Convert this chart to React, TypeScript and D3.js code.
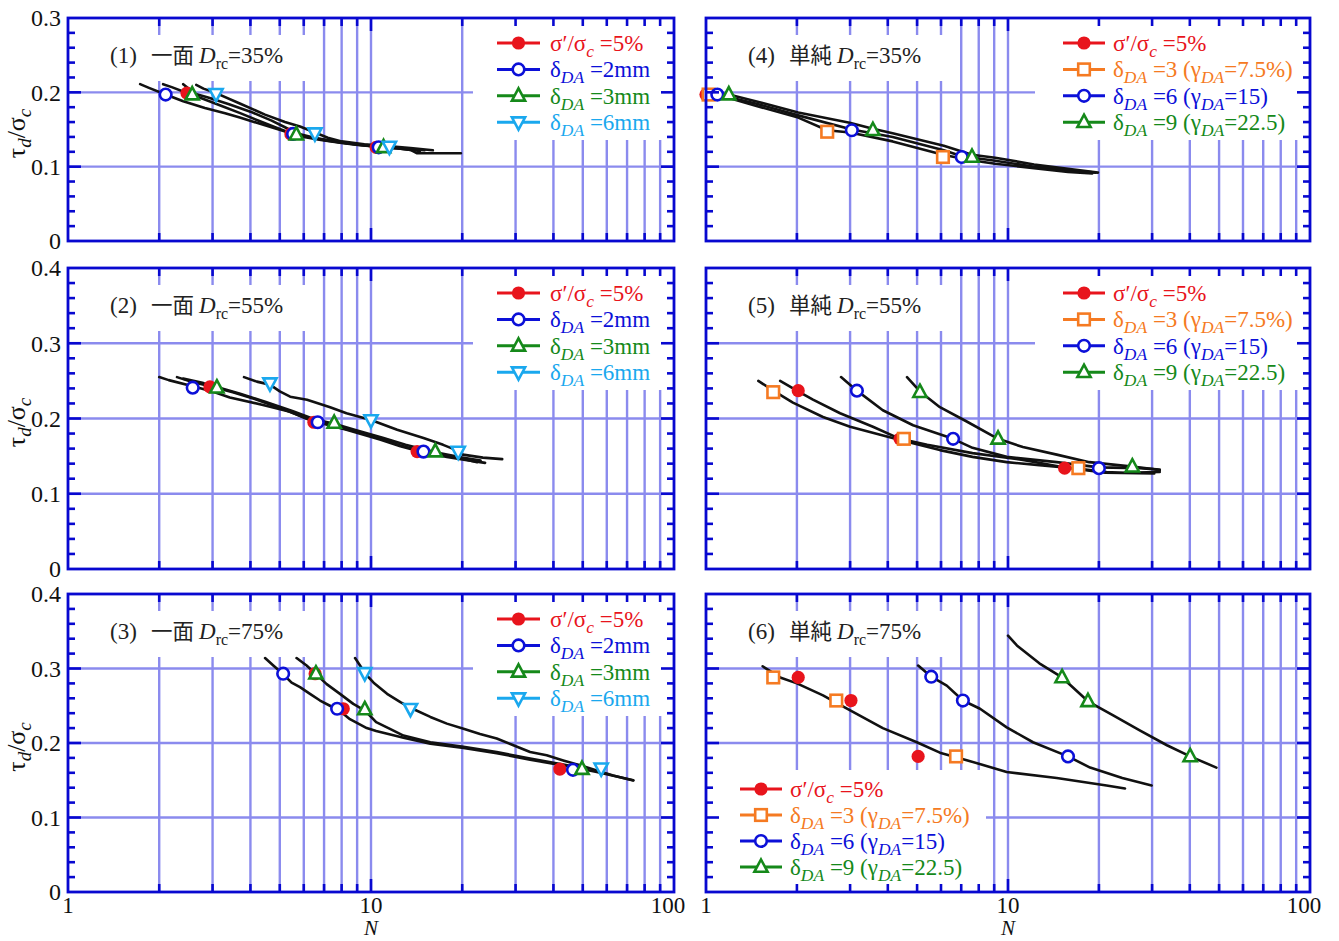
import React from "react";
import * as d3 from "d3";

// ---------------- data ----------------
const panelNumbers = ["(1)", "(2)", "(3)", "(4)", "(5)", "(6)"];
const panelMethods = ["一面", "一面", "一面", "単純", "単純", "単純"];
const panelDensities = ["=35%", "=55%", "=75%", "=35%", "=55%", "=75%"];
const panelYMax = [0.3, 0.4, 0.4, 0.3, 0.4, 0.4];
const xTickLabels = ["1", "10", "100"];
const xTickValues = [1, 10, 100];

// legend kinds and labels ([text, isSubscript])
const leftLegendKinds = ["red", "blue", "green", "cyan"];
const rightLegendKinds = ["red", "orange", "blue", "green"];
const leftLegendLabels: [string, number][][] = [
  [["σ′/σ", 0], ["c", 1], [" =5%", 0]],
  [["δ", 0], ["DA", 1], [" =2mm", 0]],
  [["δ", 0], ["DA", 1], [" =3mm", 0]],
  [["δ", 0], ["DA", 1], [" =6mm", 0]],
];
const rightLegendLabels: [string, number][][] = [
  [["σ′/σ", 0], ["c", 1], [" =5%", 0]],
  [["δ", 0], ["DA", 1], [" =3 (γ", 0], ["DA", 1], ["=7.5%)", 0]],
  [["δ", 0], ["DA", 1], [" =6 (γ", 0], ["DA", 1], ["=15)", 0]],
  [["δ", 0], ["DA", 1], [" =9 (γ", 0], ["DA", 1], ["=22.5)", 0]],
];

// Panel 1 (一面 Drc=35%)
const p1Red = [[2.47, 0.199], [5.44, 0.144], [10.4, 0.126]];
const p1Blue = [[2.10, 0.197], [5.53, 0.144], [10.6, 0.126]];
const p1Green = [[2.57, 0.197], [5.67, 0.143], [11.0, 0.126]];
const p1Cyan = [[3.08, 0.198], [6.53, 0.145], [11.5, 0.127]];
const p1CurveA = [[1.73, 0.211], [1.85, 0.206], [2.1, 0.197], [2.4, 0.188], [2.83, 0.179], [3.3, 0.172], [3.69, 0.166], [4.2, 0.159], [4.78, 0.152], [5.44, 0.145], [6.0, 0.140], [6.83, 0.136], [8.0, 0.132], [9.2, 0.129], [10.5, 0.127], [12, 0.125], [13.5, 0.1225], [14.2, 0.118], [16, 0.118], [19.8, 0.118]];
const p1CurveB = [[2.06, 0.211], [2.2, 0.207], [2.47, 0.199], [2.8, 0.191], [3.2, 0.182], [3.7, 0.172], [4.3, 0.161], [4.9, 0.152], [5.44, 0.145], [6.2, 0.140], [7.2, 0.135], [8.5, 0.131], [10.4, 0.127], [12.5, 0.124], [14.5, 0.121]];
const p1CurveC = [[2.40, 0.211], [2.5, 0.205], [2.57, 0.199], [2.9, 0.193], [3.4, 0.184], [4.0, 0.174], [4.7, 0.162], [5.2, 0.153], [5.67, 0.145], [6.5, 0.139], [7.6, 0.134], [9.0, 0.130], [11.0, 0.127], [13, 0.124], [15, 0.122]];
const p1CurveD = [[2.65, 0.210], [2.8, 0.205], [3.08, 0.199], [3.69, 0.185], [4.47, 0.170], [5.2, 0.160], [5.83, 0.154], [6.53, 0.146], [7.2, 0.139], [8.0, 0.134], [9.5, 0.130], [11.1, 0.128], [13.5, 0.125], [16, 0.122]];

// Panel 2 (一面 Drc=55%)
const p2Red = [[2.94, 0.242], [6.48, 0.195], [14.2, 0.156]];
const p2Blue = [[2.58, 0.241], [6.67, 0.195], [14.9, 0.156]];
const p2Green = [[3.10, 0.241], [7.56, 0.194], [16.3, 0.156]];
const p2Cyan = [[4.64, 0.247], [10.0, 0.198], [19.4, 0.156]];
const p2CurveA = [[2.0, 0.255], [2.15, 0.251], [2.58, 0.243], [3.0, 0.236], [3.42, 0.228], [4.4, 0.218], [5.41, 0.209], [6.1, 0.200], [6.67, 0.195], [8.3, 0.185], [10.7, 0.172], [12.5, 0.163], [14.2, 0.157], [17.8, 0.149], [20.5, 0.145], [23.8, 0.141]];
const p2CurveB = [[2.29, 0.255], [2.5, 0.250], [2.94, 0.243], [3.5, 0.235], [4.2, 0.225], [5.0, 0.214], [5.9, 0.203], [6.48, 0.197], [7.56, 0.190], [9, 0.182], [10.8, 0.173], [12.5, 0.164], [14.2, 0.158], [16.3, 0.153], [19, 0.149], [22.4, 0.142]];
const p2CurveC = [[2.4, 0.253], [2.8, 0.247], [3.1, 0.242], [3.7, 0.233], [4.5, 0.222], [5.5, 0.210], [6.5, 0.199], [7.56, 0.193], [9, 0.184], [11, 0.174], [13, 0.165], [16.3, 0.155], [20, 0.148], [23, 0.144]];
const p2CurveD = [[3.81, 0.255], [4.2, 0.249], [4.64, 0.245], [5.0, 0.236], [5.41, 0.229], [6.15, 0.225], [7.33, 0.215], [8.3, 0.207], [10, 0.198], [12.2, 0.185], [14.9, 0.174], [17.3, 0.165], [19.4, 0.157], [20.1, 0.152], [23.4, 0.148], [27.1, 0.146]];

// Panel 3 (一面 Drc=75%)
const p3Red = [[6.54, 0.293], [8.1, 0.246], [42.0, 0.165]];
const p3Blue = [[5.13, 0.293], [7.73, 0.246], [46.4, 0.164]];
const p3Green = [[6.58, 0.293], [9.54, 0.245], [49.7, 0.165]];
const p3Cyan = [[9.54, 0.294], [13.5, 0.246], [57.5, 0.166]];
const p3CurveA = [[4.47, 0.314], [4.76, 0.304], [5.11, 0.293], [5.47, 0.281], [5.83, 0.275], [6.29, 0.266], [6.79, 0.257], [7.32, 0.250], [7.9, 0.243], [8.52, 0.232], [9.68, 0.220], [10.4, 0.216], [12.8, 0.207], [15.7, 0.199], [20.2, 0.1935], [26.0, 0.1864], [33.5, 0.1775], [43.1, 0.170], [55.6, 0.161], [73.4, 0.150]];
const p3CurveB = [[5.68, 0.314], [6.13, 0.304], [6.54, 0.2935], [7.14, 0.279], [7.9, 0.266], [8.74, 0.2525], [9.55, 0.2436], [10.4, 0.228], [11.55, 0.219], [12.8, 0.210], [15.7, 0.201], [20.2, 0.195], [26.0, 0.188], [33.5, 0.179], [43.1, 0.171], [50, 0.166]];
const p3CurveC = [[8.86, 0.314], [9.2, 0.304], [9.55, 0.2935], [10.2, 0.281], [11.3, 0.266], [12.5, 0.255], [13.55, 0.247], [15.7, 0.235], [17.8, 0.226], [20.2, 0.219], [22.9, 0.212], [26.0, 0.206], [29.5, 0.197], [33.5, 0.188], [38.0, 0.1835], [43.1, 0.1766], [49.0, 0.170], [55.6, 0.163], [63.0, 0.1565], [73.4, 0.1498]];

// Panel 4 (単純 Drc=35%)
const p4Red = [[1.0, 0.197]];
const p4Orange = [[1.02, 0.197], [2.52, 0.147], [6.09, 0.113]];
const p4Blue = [[1.09, 0.197], [3.04, 0.149], [7.03, 0.113]];
const p4Green = [[1.19, 0.197], [3.57, 0.149], [7.6, 0.113]];
const p4CurveA = [[1.0, 0.200], [1.19, 0.197], [1.46, 0.188], [2.02, 0.173], [2.99, 0.159], [3.57, 0.151], [4.15, 0.145], [6.13, 0.128], [7.6, 0.116], [9.07, 0.112], [12.2, 0.103], [15.8, 0.097], [19.85, 0.092]];
const p4CurveB = [[1.0, 0.199], [1.09, 0.197], [1.46, 0.185], [2.02, 0.169], [3.04, 0.150], [4.15, 0.140], [6.13, 0.122], [7.03, 0.114], [9.07, 0.108], [12.2, 0.100], [15.8, 0.095], [19.5, 0.092]];
const p4CurveC = [[1.0, 0.198], [1.2, 0.192], [1.46, 0.182], [2.02, 0.166], [2.52, 0.149], [3.0, 0.146], [4.15, 0.134], [6.09, 0.116], [7.46, 0.109], [9.07, 0.104], [12.2, 0.098], [15.8, 0.093], [19.0, 0.091]];

// Panel 5 (単純 Drc=55%)
const p5Red = [[2.02, 0.237], [4.39, 0.173], [15.4, 0.134]];
const p5Orange = [[1.67, 0.235], [4.52, 0.173], [17.1, 0.134]];
const p5Blue = [[3.16, 0.237], [6.58, 0.173], [20.0, 0.134]];
const p5Green = [[5.11, 0.235], [9.27, 0.173], [25.8, 0.136]];
const p5CurveA = [[1.49, 0.250], [1.67, 0.237], [1.94, 0.221], [2.44, 0.202], [3.0, 0.189], [3.97, 0.176], [4.63, 0.169], [5.95, 0.158], [7.63, 0.149], [9.9, 0.142], [12.7, 0.138], [16.4, 0.134], [21.2, 0.129], [24, 0.128], [31.8, 0.129]];
const p5CurveB = [[1.76, 0.250], [2.02, 0.236], [2.26, 0.225], [2.78, 0.207], [3.57, 0.189], [4.39, 0.173], [5.4, 0.165], [7.63, 0.154], [11.2, 0.145], [15.4, 0.135], [21, 0.128], [30.5, 0.127]];
const p5CurveC = [[2.80, 0.255], [3.16, 0.237], [3.85, 0.211], [4.85, 0.191], [6.58, 0.173], [7.63, 0.161], [9.9, 0.149], [14.5, 0.142], [20, 0.135], [27.3, 0.134], [31.8, 0.132]];
const p5CurveD = [[4.63, 0.255], [5.11, 0.236], [5.95, 0.215], [7.3, 0.196], [9.27, 0.173], [11.2, 0.162], [14.5, 0.152], [18.6, 0.142], [25.8, 0.136], [30.2, 0.133], [31.8, 0.131]];

// Panel 6 (単純 Drc=75%)
const p6Red = [[2.02, 0.288], [3.02, 0.257], [5.04, 0.182]];
const p6Orange = [[1.67, 0.288], [2.70, 0.257], [6.73, 0.182]];
const p6Blue = [[5.57, 0.289], [7.09, 0.257], [15.8, 0.182]];
const p6Green = [[15.1, 0.288], [18.4, 0.256], [40.1, 0.182]];
const p6CurveA = [[1.54, 0.303], [1.76, 0.288], [2.0, 0.280], [2.44, 0.264], [2.93, 0.246], [3.85, 0.220], [4.99, 0.201], [5.95, 0.187], [7.3, 0.177], [9.9, 0.161], [14.5, 0.153], [21.2, 0.143], [24.4, 0.139]];
const p6CurveB = [[5.04, 0.304], [5.57, 0.289], [6.27, 0.277], [7.09, 0.257], [8.08, 0.246], [9.9, 0.221], [12.1, 0.201], [15.8, 0.182], [18.7, 0.167], [23.9, 0.153], [29.9, 0.143]];
const p6CurveC = [[10.0, 0.344], [10.7, 0.331], [12.7, 0.307], [15.1, 0.288], [18.4, 0.256], [22.3, 0.237], [27.3, 0.217], [33.6, 0.197], [40.1, 0.182], [49.0, 0.167]];

// ---------------- styles / layout ----------------
const SERIF = "'Liberation Serif','Times New Roman',Times,serif";
const CJK = "'Noto Sans CJK JP','Noto Sans CJK SC',sans-serif";
const COLORS: Record<string, string> = {
  red: "#e8141c",
  blue: "#0c10d8",
  green: "#15891a",
  cyan: "#1aa8ee",
  orange: "#f57a22",
};
const FRAME = "#0808d0";
const GRID = "#8b8bee";

const COLS = [
  { x0: 68, x1: 674 },
  { x0: 706, x1: 1310 },
];
const ROWS = [
  { y0: 18, y1: 241 },
  { y0: 268, y1: 569 },
  { y0: 594, y1: 892 },
];

type Pt = number[];
interface PanelDef {
  col: number;
  row: number;
  curves: Pt[][];
  series: [string, Pt[]][];
  legend: "left" | "right" | "bottom";
}

const PANELS: PanelDef[] = [
  { col: 0, row: 0, curves: [p1CurveA, p1CurveB, p1CurveC, p1CurveD], series: [["red", p1Red], ["blue", p1Blue], ["green", p1Green], ["cyan", p1Cyan]], legend: "left" },
  { col: 0, row: 1, curves: [p2CurveA, p2CurveB, p2CurveC, p2CurveD], series: [["red", p2Red], ["blue", p2Blue], ["green", p2Green], ["cyan", p2Cyan]], legend: "left" },
  { col: 0, row: 2, curves: [p3CurveA, p3CurveB, p3CurveC], series: [["red", p3Red], ["blue", p3Blue], ["green", p3Green], ["cyan", p3Cyan]], legend: "left" },
  { col: 1, row: 0, curves: [p4CurveA, p4CurveB, p4CurveC], series: [["red", p4Red], ["orange", p4Orange], ["blue", p4Blue], ["green", p4Green]], legend: "right" },
  { col: 1, row: 1, curves: [p5CurveA, p5CurveB, p5CurveC, p5CurveD], series: [["red", p5Red], ["orange", p5Orange], ["blue", p5Blue], ["green", p5Green]], legend: "right" },
  { col: 1, row: 2, curves: [p6CurveA, p6CurveB, p6CurveC], series: [["red", p6Red], ["orange", p6Orange], ["blue", p6Blue], ["green", p6Green]], legend: "bottom" },
];

function Marker({ kind, x, y }: { kind: string; x: number; y: number }) {
  const c = COLORS[kind];
  const sw = 2.6;
  if (kind === "red") return <circle cx={x} cy={y} r={6.6} fill={c} />;
  if (kind === "blue") return <circle cx={x} cy={y} r={5.8} fill="#fff" stroke={c} strokeWidth={sw} />;
  if (kind === "orange") return <rect x={x - 5.8} y={y - 5.8} width={11.6} height={11.6} fill="#fff" stroke={c} strokeWidth={sw} />;
  if (kind === "green")
    return <path d={`M${x},${y - 7.5}L${x + 6.6},${y + 4.8}L${x - 6.6},${y + 4.8}Z`} fill="#fff" stroke={c} strokeWidth={sw} strokeLinejoin="miter" />;
  return <path d={`M${x},${y + 7.5}L${x + 6.6},${y - 4.8}L${x - 6.6},${y - 4.8}Z`} fill="#fff" stroke={c} strokeWidth={sw} strokeLinejoin="miter" />;
}

function RichLabel({ parts, x, y, color, size }: { parts: [string, number][]; x: number; y: number; color: string; size: number }) {
  const out: any[] = [];
  let shifted = false;
  parts.forEach(([t, sub], i) => {
    if (sub) {
      out.push(
        <tspan key={i} dy={shifted ? 0 : 6} fontSize={size * 0.76} fontStyle="italic">
          {t}
        </tspan>
      );
      shifted = true;
    } else {
      out.push(
        <tspan key={i} dy={shifted ? -6 : 0} fontSize={size}>
          {t}
        </tspan>
      );
      shifted = false;
    }
  });
  return (
    <text x={x} y={y} fill={color} fontFamily={SERIF} fontSize={size} style={{ whiteSpace: "pre" }}>
      {out}
    </text>
  );
}

function Panel({ def, idx }: { def: PanelDef; idx: number }) {
  const { x0, x1 } = COLS[def.col];
  const { y0, y1 } = ROWS[def.row];
  const ymax = panelYMax[idx];
  const xs = d3.scaleLog().domain([1, 100]).range([x0, x1]);
  const ys = d3.scaleLinear().domain([0, ymax]).range([y1, y0]);
  const line = d3
    .line<Pt>()
    .x((d) => xs(d[0]))
    .y((d) => ys(d[1]));

  const xAll = xs.ticks().filter((v) => v > 1 && v < 100);
  const yMajor = ys.ticks(Math.round(ymax * 10));
  const yMinor = d3.range(0, Math.round(ymax * 50) + 1).map((k) => k / 50);
  const clipId = `clip${idx}`;

  // title box
  const tbx = x0 + 32;
  const tby = y0 + 17;
  // legend box
  let lb = { x: 0, y: 0, w: 0, h: 0 };
  let lineX0 = 0, lineX1 = 0, textX = 0, rowY0 = 0, rowStep = 26.4;
  let kinds = leftLegendKinds;
  let labels = leftLegendLabels;
  if (def.legend === "left") {
    lb = { x: x0 + 405, y: y0, w: x1 - (x0 + 405), h: 122 };
    lineX0 = x0 + 429; lineX1 = x0 + 472; textX = x0 + 482; rowY0 = y0 + 25;
  } else if (def.legend === "right") {
    kinds = rightLegendKinds; labels = rightLegendLabels;
    lb = { x: x0 + 329, y: y0, w: x1 - (x0 + 329), h: 122 };
    lineX0 = x0 + 357; lineX1 = x0 + 399; textX = x0 + 407; rowY0 = y0 + 25;
  } else {
    kinds = rightLegendKinds; labels = rightLegendLabels;
    lb = { x: x0, y: y0 + 176, w: 280, h: y1 - (y0 + 176) };
    lineX0 = x0 + 34; lineX1 = x0 + 76; textX = x0 + 84; rowY0 = y0 + 195; rowStep = 26;
  }

  const isLeftCol = def.col === 0;
  const isBottom = def.row === 2;

  return (
    <g>
      <defs>
        <clipPath id={clipId}>
          <rect x={x0} y={y0} width={x1 - x0} height={y1 - y0} />
        </clipPath>
      </defs>
      {/* grid */}
      <g clipPath={`url(#${clipId})`} stroke={GRID} strokeWidth={2.4}>
        {xAll.map((v) => (
          <line key={"gx" + v} x1={xs(v)} x2={xs(v)} y1={y0} y2={y1} />
        ))}
        {yMajor
          .filter((v) => v > 0 && v < ymax - 1e-9)
          .map((v) => (
            <line key={"gy" + v} x1={x0} x2={x1} y1={ys(v)} y2={ys(v)} />
          ))}
      </g>
      {/* white boxes */}
      <rect x={tbx} y={tby} width={206} height={46} fill="#fff" />
      <rect x={lb.x} y={lb.y} width={lb.w} height={lb.h} fill="#fff" />
      {/* curves */}
      <g clipPath={`url(#${clipId})`} fill="none" stroke="#111" strokeWidth={2.6} strokeLinejoin="round" strokeLinecap="round">
        {def.curves.map((c, i) => (
          <path key={i} d={line(c as Pt[]) || ""} />
        ))}
      </g>
      {/* markers */}
      {def.series.map(([kind, pts]) =>
        pts.map((p, i) => <Marker key={kind + i} kind={kind} x={xs(p[0])} y={ys(p[1])} />)
      )}
      {/* ticks */}
      <g stroke={FRAME} strokeWidth={2.6}>
        {xAll.map((v) => {
          const L = v === 10 ? 13 : 8;
          return (
            <g key={"tx" + v}>
              <line x1={xs(v)} x2={xs(v)} y1={y1} y2={y1 - L} />
              <line x1={xs(v)} x2={xs(v)} y1={y0} y2={y0 + L} />
            </g>
          );
        })}
        {yMinor
          .filter((v) => v > 0 && v < ymax - 1e-9)
          .map((v) => {
            const major = Math.abs(v * 10 - Math.round(v * 10)) < 1e-6;
            const L = major ? 13 : 7;
            return (
              <g key={"ty" + v}>
                <line x1={x0} x2={x0 + L} y1={ys(v)} y2={ys(v)} />
                <line x1={x1} x2={x1 - L} y1={ys(v)} y2={ys(v)} />
              </g>
            );
          })}
      </g>
      <rect x={x0} y={y0} width={x1 - x0} height={y1 - y0} fill="none" stroke={FRAME} strokeWidth={2.8} />
      {/* title */}
      <text x={x0 + 42} y={y0 + 45} fontFamily={SERIF} fontSize={23} fill="#222" style={{ whiteSpace: "pre" }}>
        <tspan>{panelNumbers[idx]}</tspan>
        <tspan x={x0 + 83} fontFamily={CJK} fontSize={21.5}>{panelMethods[idx]}</tspan>
        <tspan x={x0 + 131} fontStyle="italic">D</tspan>
        <tspan dy={6} fontSize={16}>rc</tspan>
        <tspan dy={-6}>{panelDensities[idx]}</tspan>
      </text>
      {/* legend */}
      {kinds.map((k, i) => {
        const ry = rowY0 + i * rowStep;
        return (
          <g key={"lg" + k}>
            <line x1={lineX0} x2={lineX1} y1={ry} y2={ry} stroke={COLORS[k]} strokeWidth={3} />
            <Marker kind={k} x={(lineX0 + lineX1) / 2} y={ry} />
            <RichLabel parts={labels[i]} x={textX} y={ry + 8} color={COLORS[k]} size={23} />
          </g>
        );
      })}
      {/* y tick labels */}
      {isLeftCol &&
        yMajor.map((v) => (
          <text key={"yl" + v} x={x0 - 7} y={ys(v)} dy="0.35em" textAnchor="end" fontFamily={SERIF} fontSize={24} fill="#111">
            {v === 0 ? "0" : d3.format(".1f")(v)}
          </text>
        ))}
      {isLeftCol && (
        <text transform={`translate(25,${(y0 + y1) / 2 + 4}) rotate(-90)`} textAnchor="middle" fontFamily={SERIF} fontSize={26} fill="#111">
          <tspan>τ</tspan>
          <tspan dy={6} fontSize={19} fontStyle="italic">d</tspan>
          <tspan dy={-6}>/σ</tspan>
          <tspan dy={6} fontSize={19} fontStyle="italic">c</tspan>
        </text>
      )}
      {isBottom &&
        xTickValues.map((v, i) => (
          <text key={"xl" + v} x={xs(v) + (i === 2 ? -6 : 0)} y={y1 + 21} textAnchor="middle" fontFamily={SERIF} fontSize={23} fill="#111">
            {xTickLabels[i]}
          </text>
        ))}
      {isBottom && (
        <text x={xs(10)} y={y1 + 43} textAnchor="middle" fontFamily={SERIF} fontStyle="italic" fontSize={21} fill="#111">
          N
        </text>
      )}
    </g>
  );
}

export default function App() {
  return (
    <svg width={1339} height={941} style={{ position: "absolute", left: 0, top: 0, background: "#fff", display: "block" }}>
      <rect x={0} y={0} width={1339} height={941} fill="#fff" />
      {PANELS.map((p, i) => (
        <Panel key={i} def={p} idx={i} />
      ))}
    </svg>
  );
}
